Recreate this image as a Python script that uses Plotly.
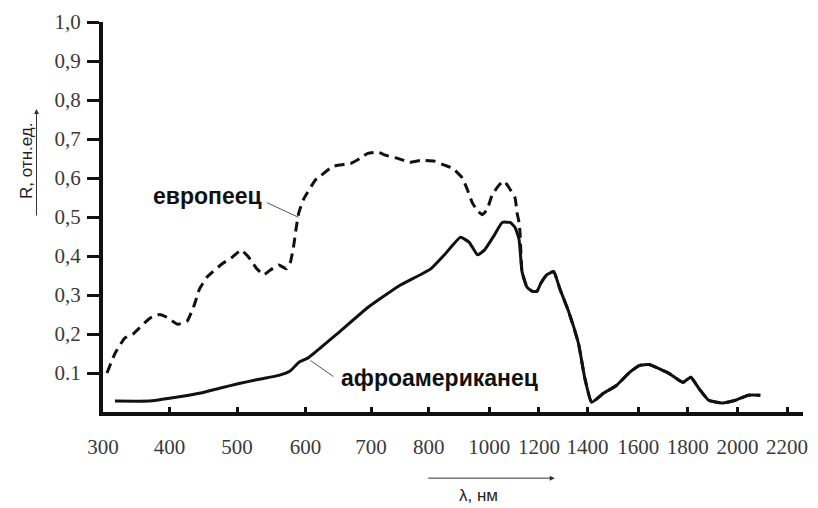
import numpy as np
import plotly.graph_objects as go

# Horizontal axis: wavelength marks (nm) and their places along the compressed scale
scale_nm = [300, 400, 500, 600, 700, 800, 1000, 1200, 1400, 1600, 1800, 2000, 2200]
scale_pos = [0, 67, 135, 204, 270, 328, 389, 439, 488, 539, 589, 639, 689]

# Vertical axis marks
r_ticks = [0.1, 0.2, 0.3, 0.4, 0.5, 0.6, 0.7, 0.8, 0.9, 1.0]
r_labels = ["0.1", "0,2", "0,3", "0,4", "0,5", "0,6", "0,7", "0,8", "0,9", "1,0"]

# Reflectance of European skin, visible / near-IR part (dashed)
european_nm = [306, 318, 333, 345, 370, 385, 396, 412, 426, 437,
               444, 456, 478, 493, 506, 517, 529, 539, 551, 561,
               572, 578, 583, 586, 590, 597, 615, 624, 642, 670,
               683, 695, 712, 726, 747, 767, 786, 820, 852, 879,
               911, 928, 944, 961, 977, 993, 1012, 1040, 1060, 1080,
               1104, 1112, 1120, 1124]
european_r = [0.10, 0.15, 0.19, 0.20, 0.24, 0.25, 0.243, 0.225, 0.233, 0.276,
              0.314, 0.347, 0.38, 0.397, 0.415, 0.397, 0.367, 0.352, 0.367, 0.377,
              0.367, 0.385, 0.43, 0.468, 0.51, 0.545, 0.595, 0.607, 0.63, 0.638,
              0.65, 0.663, 0.666, 0.658, 0.65, 0.64, 0.645, 0.643, 0.633, 0.625,
              0.6, 0.57, 0.537, 0.516, 0.506, 0.519, 0.557, 0.582, 0.592, 0.575,
              0.549, 0.511, 0.486, 0.46]

# Reflectance of African-American skin, visible / near-IR part (solid)
african_nm = [318, 370, 400, 444, 474, 503, 532, 561, 578, 590,
              605, 650, 695, 747, 807, 852, 905, 934, 961, 984,
              1020, 1052, 1084, 1104, 1120]
african_r = [0.028, 0.028, 0.035, 0.048, 0.061, 0.073, 0.084, 0.094, 0.106, 0.127,
             0.14, 0.203, 0.268, 0.322, 0.367, 0.403, 0.448, 0.435, 0.403, 0.415,
             0.453, 0.486, 0.486, 0.473, 0.443]

# Infrared part where both spectra coincide
shared_nm = [1132, 1152, 1172, 1192, 1208, 1233, 1261, 1286, 1322, 1363,
             1388, 1416, 1463, 1514, 1565, 1604, 1644, 1684, 1724, 1780,
             1812, 1844, 1884, 1940, 1992, 2044, 2092]
shared_r = [0.36, 0.32, 0.31, 0.309, 0.33, 0.352, 0.36, 0.316, 0.258, 0.175,
            0.089, 0.025, 0.048, 0.068, 0.101, 0.119, 0.122, 0.111, 0.099, 0.076,
            0.089, 0.061, 0.03, 0.023, 0.03, 0.043, 0.043]


def to_axis(nm):
    return np.interp(nm, scale_nm, scale_pos)


INK = "#111111"
SERIF = "Liberation Serif, Times New Roman, serif"
SANS = "Liberation Sans, Arial, sans-serif"

fig = go.Figure()
fig.add_trace(go.Scatter(
    x=to_axis(african_nm + shared_nm), y=african_r + shared_r,
    mode="lines", line=dict(color=INK, width=3, shape="spline", smoothing=0.4),
    hoverinfo="skip"))
fig.add_trace(go.Scatter(
    x=to_axis(european_nm + shared_nm), y=european_r + shared_r,
    mode="lines", line=dict(color=INK, width=3, dash="10px,6px",
                            shape="spline", smoothing=0.4),
    hoverinfo="skip"))

fig.update_xaxes(
    range=[0, 705], tickmode="array", tickvals=to_axis(scale_nm),
    ticktext=[str(v) for v in scale_nm],
    ticks="inside", ticklen=5, tickwidth=3, tickcolor=INK,
    showline=True, linewidth=3.5, linecolor=INK,
    showgrid=False, zeroline=False, ticklabelstandoff=13,
    tickfont=dict(family=SERIF, size=21, color="#3a3a3a"))
fig.update_yaxes(
    range=[0, 1.0], tickmode="array", tickvals=r_ticks, ticktext=r_labels,
    ticks="outside", ticklen=12, tickwidth=3, tickcolor=INK,
    showline=True, linewidth=4, linecolor=INK,
    showgrid=False, zeroline=False, ticklabelstandoff=2,
    tickfont=dict(family=SERIF, size=21, color="#3a3a3a"))

annotations = [
    # curve names
    dict(x=105, y=0.554, text="<b>европеец</b>", showarrow=False,
         font=dict(family=SANS, size=23, color=INK)),
    dict(x=339, y=0.086, text="<b>афроамериканец</b>", showarrow=False,
         font=dict(family=SANS, size=23, color=INK)),
    # axis titles
    dict(xref="paper", yref="paper", x=-0.109, y=0.643, text="R, отн.ед.",
         textangle=-90, showarrow=False, xanchor="center", yanchor="middle",
         font=dict(family=SANS, size=17, color="#222")),
    dict(xref="paper", yref="paper", x=0.536, y=-0.215, text="λ, нм",
         showarrow=False, xanchor="center", yanchor="middle",
         font=dict(family=SANS, size=17, color="#222")),
    # direction arrows next to the axis titles
    dict(xref="paper", yref="paper", x=-0.095, y=0.777, ax=0, ay=108,
         text="", showarrow=True,
         arrowhead=2, arrowsize=1, arrowwidth=1, arrowcolor="#333"),
    dict(xref="paper", yref="paper", x=0.6454, y=-0.1696, ax=-128, ay=0,
         text="", showarrow=True,
         arrowhead=2, arrowsize=1, arrowwidth=1, arrowcolor="#333"),
]
fig.update_layout(annotations=annotations)

# thin leader lines from the names to their curves
leader = dict(color="#555", width=1)
fig.add_shape(type="line", x0=165, y0=0.537, x1=197, y1=0.499, line=leader)
fig.add_shape(type="line", x0=232, y0=0.091, x1=209, y1=0.132, line=leader)

fig.update_layout(
    width=818, height=508,
    margin=dict(l=103, r=10, t=17, b=96),
    plot_bgcolor="white", paper_bgcolor="white",
    showlegend=False)

fig.write_html("out.html")
